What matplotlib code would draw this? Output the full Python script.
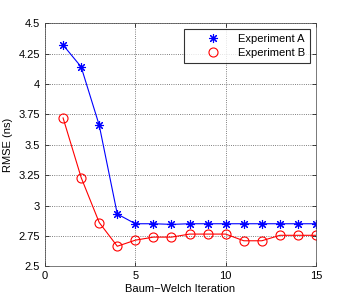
import matplotlib
matplotlib.use("Agg")
import matplotlib.pyplot as plt

plt.rcParams['font.family'] = ['Liberation Sans', 'DejaVu Sans']

iterations = list(range(1, 16))
exp_a = [4.32, 4.14, 3.66, 2.93, 2.85, 2.85, 2.845, 2.85, 2.85, 2.85, 2.85, 2.85, 2.85, 2.85, 2.85]
exp_b = [3.72, 3.23, 2.86, 2.665, 2.715, 2.74, 2.74, 2.765, 2.765, 2.765, 2.71, 2.71, 2.755, 2.755, 2.755]
xticks = [0, 5, 10, 15]
yticks = [2.5, 2.75, 3, 3.25, 3.5, 3.75, 4, 4.25, 4.5]
ytick_labels = ['2.5', '2.75', '3', '3.25', '3.5', '3.75', '4', '4.25', '4.5']

fig = plt.figure(figsize=(3.5, 3.0), dpi=100)
ax = fig.add_axes([0.1286, 0.1123, 0.7744, 0.8107])

asterisk = (8, 2, 0)
ax.plot(iterations, exp_a, color='blue', marker=asterisk, markersize=6.5, linewidth=0.8,
        markerfacecolor='blue', markeredgecolor='blue', markeredgewidth=0.8, label='Experiment A')
ax.plot(iterations, exp_b, color='red', marker='o', markersize=6.5, linewidth=0.8,
        markerfacecolor='none', markeredgecolor='red', markeredgewidth=0.8, label='Experiment B')

ax.set_xlim(0, 15)
ax.set_ylim(2.5, 4.5)
ax.set_xticks(xticks)
ax.set_yticks(yticks)
ax.set_yticklabels(ytick_labels)
ax.tick_params(direction='in', labelsize=8, length=3, width=0.5, top=True, right=True)
ax.grid(True, linestyle=':', color='#555555', linewidth=0.6)
for s in ax.spines.values():
    s.set_linewidth(0.5)
    s.set_color('#444444')

ax.set_xlabel('Baum\u2212Welch Iteration', fontsize=8, labelpad=2)
ax.set_ylabel('RMSE (ns)', fontsize=8, labelpad=4)

leg = ax.legend(loc='upper right', fontsize=8, frameon=True, fancybox=False,
                edgecolor='black', handlelength=4.3, borderaxespad=0.55, borderpad=0.45,
                handletextpad=0.1, labelspacing=0.35)
for h in leg.legend_handles:
    h.set_linestyle('none')
leg.get_frame().set_linewidth(0.8)

fig.savefig('out.png', dpi=100)
